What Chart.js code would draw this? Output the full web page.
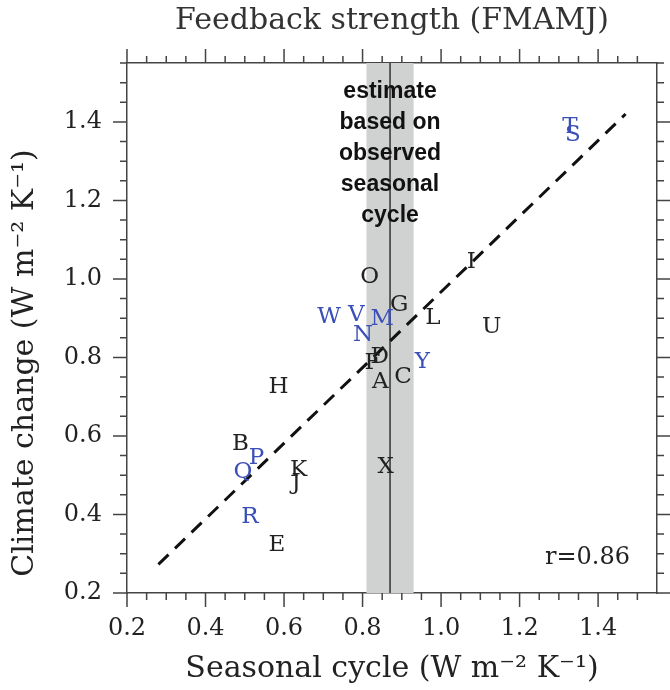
<!DOCTYPE html>
<html>
<head>
<meta charset="utf-8">
<script src="https://cdn.jsdelivr.net/npm/chart.js@4.4.0/dist/chart.umd.min.js"></script>
<style>
  html, body { margin: 0; padding: 0; background: #fff; }
  #wrap { width: 670px; height: 690px; }
</style>
</head>
<body>
<div id="wrap"><canvas id="chart"></canvas></div>
<script>
// models (letters) and their feedback strengths
const models   = ['A','B','C','D','E','F','G','H','I','J','K','L','M','N','O','P','Q','R','S','T','U','V','W','X','Y'];
const seasonal = [0.845,0.489,0.903,0.844,0.582,0.825,0.893,0.586,1.077,0.631,0.637,0.979,0.850,0.801,0.818,0.530,0.495,0.513,1.336,1.328,1.129,0.784,0.715,0.859,0.952];
const climate  = [0.738,0.579,0.751,0.800,0.322,0.785,0.934,0.724,1.044,0.479,0.513,0.900,0.897,0.857,1.004,0.543,0.509,0.394,1.367,1.387,0.877,0.908,0.904,0.521,0.789];
const blueModels = ['M','N','P','Q','R','S','T','V','W','Y'];

// regression line
const fitX = [0.28, 1.47];
const fitY = [0.273, 1.42];

// observed estimate
const obsRange = [0.81, 0.93];
const obsBest = 0.87;
const obsNote = ['estimate', 'based on', 'observed', 'seasonal', 'cycle'];
const rText = 'r=0.86';

// axes
const axisMin = 0.2, axisMax = 1.55;
const xTicks = [0.2, 0.4, 0.6, 0.8, 1.0, 1.2, 1.4];
const yTicks = [0.2, 0.4, 0.6, 0.8, 1.0, 1.2, 1.4];
const yTitle = 'Climate change (W m⁻² K⁻¹)';

const serif = "'DejaVu Serif', serif";
const ink = '#222';
const frame = '#444';

const obsBand = {
  id: 'obsBand',
  beforeDatasetsDraw(chart) {
    const {ctx, chartArea: a, scales: {x}} = chart;
    const x0 = x.getPixelForValue(obsRange[0]);
    const x1 = x.getPixelForValue(obsRange[1]);
    const xm = x.getPixelForValue(obsBest);
    ctx.save();
    ctx.fillStyle = '#d0d1d1';
    ctx.fillRect(x0, a.top, x1 - x0, a.bottom - a.top);
    ctx.strokeStyle = '#333';
    ctx.lineWidth = 1.5;
    ctx.beginPath();
    ctx.moveTo(xm, a.top);
    ctx.lineTo(xm, a.bottom);
    ctx.stroke();
    ctx.fillStyle = '#111';
    ctx.font = "bold 23px 'Liberation Sans', Arial, sans-serif";
    ctx.textAlign = 'center';
    ctx.textBaseline = 'middle';
    obsNote.forEach((t, i) => ctx.fillText(t, xm, a.top + 29 + i * 30.8));
    ctx.restore();
  }
};

const letters = {
  id: 'letters',
  afterDatasetsDraw(chart) {
    const {ctx} = chart;
    const meta = chart.getDatasetMeta(0);
    ctx.save();
    ctx.font = '23px ' + serif;
    ctx.textAlign = 'center';
    ctx.textBaseline = 'middle';
    meta.data.forEach((pt, i) => {
      ctx.fillStyle = blueModels.includes(models[i]) ? '#3a4fb8' : ink;
      ctx.fillText(models[i], pt.x, pt.y);
    });
    ctx.restore();
  }
};

const tickMarks = {
  id: 'tickMarks',
  afterDraw(chart) {
    const {ctx, chartArea: a, scales: {x, y}} = chart;
    ctx.save();
    ctx.strokeStyle = frame;
    ctx.lineWidth = 1.5;
    ctx.beginPath();
    for (let i = 0; i <= 27; i++) {
      const v = axisMin + i * 0.05;
      const len = i % 4 === 0 ? 14 : 7;
      const py = y.getPixelForValue(v);
      ctx.moveTo(a.left, py); ctx.lineTo(a.left - len, py);
      ctx.moveTo(a.right, py); ctx.lineTo(a.right + len, py);
      if (i < 27) {
        const px = x.getPixelForValue(v);
        ctx.moveTo(px, a.bottom); ctx.lineTo(px, a.bottom + len);
        ctx.moveTo(px, a.top); ctx.lineTo(px, a.top - len);
      }
    }
    ctx.stroke();
    ctx.fillStyle = ink;
    ctx.font = '24px ' + serif;
    ctx.textAlign = 'right';
    ctx.textBaseline = 'middle';
    ctx.fillText(rText, a.right - 27, a.bottom - 35);
    // y axis title, sits a bit below the plot centre
    ctx.translate(25, (a.top + a.bottom) / 2 + 35);
    ctx.rotate(-Math.PI / 2);
    ctx.textAlign = 'center';
    ctx.font = '30px ' + serif;
    ctx.fillText(yTitle, 0, 0);
    ctx.restore();
  }
};

const fixTicks = list => scale => { scale.ticks = list.map(v => ({value: v})); };

new Chart(document.getElementById('chart'), {
  type: 'scatter',
  data: {
    datasets: [
      { data: models.map((m, i) => ({x: seasonal[i], y: climate[i]})), pointRadius: 0, pointHoverRadius: 0 },
      { data: fitX.map((v, i) => ({x: v, y: fitY[i]})), showLine: true, borderColor: '#111', borderWidth: 3,
        borderDash: [14, 9], pointRadius: 0, pointHoverRadius: 0 }
    ]
  },
  options: {
    responsive: true,
    maintainAspectRatio: false,
    animation: false,
    events: [],
    layout: { padding: 0 },
    plugins: { legend: { display: false }, tooltip: { enabled: false } },
    scales: {
      x: {
        type: 'linear', position: 'bottom', min: axisMin, max: axisMax,
        afterBuildTicks: fixTicks(xTicks),
        afterFit: s => { s.height = 97; },
        grid: { display: false, drawTicks: false },
        border: { display: true, color: frame, width: 1.5 },
        ticks: { padding: 21, color: ink, font: { family: serif, size: 24 }, callback: v => v.toFixed(1), maxRotation: 0 },
        title: { display: true, text: 'Seasonal cycle (W m⁻² K⁻¹)', color: ink, font: { family: serif, size: 30 }, padding: { bottom: 3 } }
      },
      x2: {
        type: 'linear', position: 'top', min: axisMin, max: axisMax,
        afterFit: s => { s.height = 63; },
        grid: { display: false, drawTicks: false },
        border: { display: true, color: frame, width: 1.5 },
        ticks: { display: false },
        title: { display: true, text: 'Feedback strength (FMAMJ)', color: '#333', font: { family: serif, size: 30 }, padding: { top: 3 } }
      },
      y: {
        type: 'linear', position: 'left', min: axisMin, max: axisMax,
        afterBuildTicks: fixTicks(yTicks),
        afterFit: s => { s.width = 127; },
        grid: { display: false, drawTicks: false },
        border: { display: true, color: frame, width: 1.5 },
        ticks: { padding: 25, color: ink, font: { family: serif, size: 24 }, callback: v => v.toFixed(1) }
      },
      y2: {
        type: 'linear', position: 'right', min: axisMin, max: axisMax,
        afterFit: s => { s.width = 13; },
        grid: { display: false, drawTicks: false },
        border: { display: true, color: frame, width: 1.5 },
        ticks: { display: false }
      }
    }
  },
  plugins: [obsBand, letters, tickMarks]
});
</script>
</body>
</html>
